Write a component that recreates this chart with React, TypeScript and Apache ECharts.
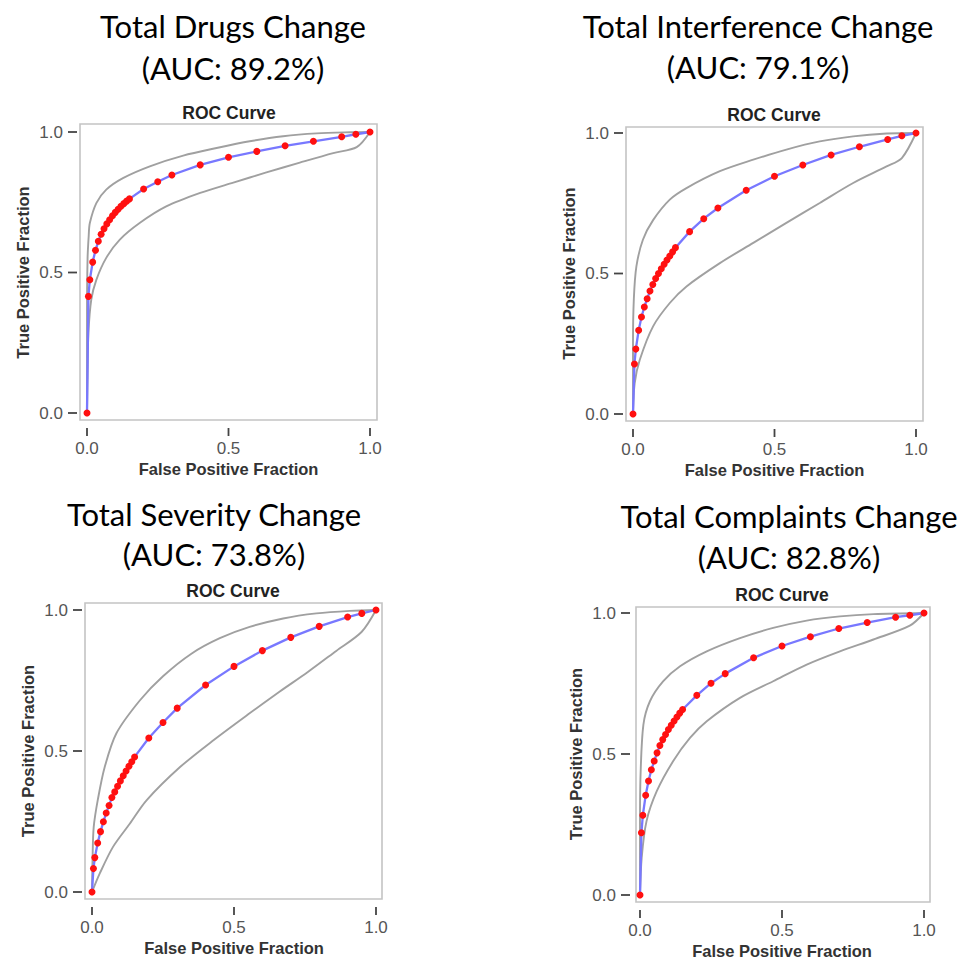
import React, { useEffect, useRef } from "react";
import * as echarts from "echarts";

// ---------- DATA ----------
const PANEL_TITLES = ["Total Drugs Change", "Total Interference Change", "Total Severity Change", "Total Complaints Change"];
const AUC_LABELS = ["(AUC: 89.2%)", "(AUC: 79.1%)", "(AUC: 73.8%)", "(AUC: 82.8%)"];
const SUB_TITLE = "ROC Curve";
const X_NAME = "False Positive Fraction";
const Y_NAME = "True Positive Fraction";
const AXIS_MIN = 0;
const AXIS_MAX = 1;
const AXIS_STEP = 0.5;
const TICK_VALUES = [0, 0.5, 1];

const FPR = [0, 0.005, 0.01, 0.02, 0.03, 0.04, 0.05, 0.06, 0.07, 0.08, 0.09, 0.1, 0.11, 0.12, 0.13, 0.14, 0.15, 0.2, 0.25, 0.3, 0.4, 0.5, 0.6, 0.7, 0.8, 0.9, 0.95, 1];

const TPR_DRUGS = [0, 0.415, 0.474, 0.537, 0.579, 0.611, 0.636, 0.656, 0.673, 0.688, 0.702, 0.714, 0.725, 0.736, 0.745, 0.754, 0.762, 0.797, 0.823, 0.847, 0.883, 0.91, 0.931, 0.951, 0.967, 0.983, 0.992, 1];
const TPR_INTERF = [0, 0.178, 0.231, 0.298, 0.345, 0.381, 0.41, 0.438, 0.461, 0.482, 0.5, 0.517, 0.533, 0.548, 0.562, 0.577, 0.592, 0.649, 0.695, 0.733, 0.796, 0.846, 0.886, 0.922, 0.951, 0.977, 0.99, 1];
const TPR_SEV = [0, 0.083, 0.122, 0.174, 0.214, 0.249, 0.28, 0.307, 0.335, 0.355, 0.375, 0.394, 0.412, 0.429, 0.446, 0.462, 0.479, 0.546, 0.601, 0.652, 0.734, 0.8, 0.856, 0.903, 0.942, 0.975, 0.988, 1];
const TPR_COMPL = [0, 0.221, 0.283, 0.354, 0.404, 0.444, 0.475, 0.504, 0.53, 0.551, 0.569, 0.587, 0.602, 0.617, 0.631, 0.645, 0.658, 0.708, 0.751, 0.785, 0.841, 0.883, 0.916, 0.945, 0.966, 0.985, 0.992, 1];

// confidence bands
const DRUGS_UP_X = [0, 0, 0.002, 0.006, 0.01, 0.033, 0.068, 0.127, 0.222, 0.34, 0.458, 0.575, 0.693, 0.811, 0.93, 1];
const DRUGS_UP_Y = [0, 0.35, 0.55, 0.63, 0.676, 0.747, 0.795, 0.836, 0.878, 0.916, 0.943, 0.967, 0.985, 0.995, 0.999, 1];
const DRUGS_LO_X = [0, 0.002, 0.005, 0.015, 0.033, 0.068, 0.116, 0.186, 0.28, 0.4, 0.517, 0.634, 0.752, 0.87, 0.953, 1];
const DRUGS_LO_Y = [0, 0.15, 0.285, 0.403, 0.474, 0.552, 0.617, 0.676, 0.735, 0.783, 0.82, 0.856, 0.891, 0.925, 0.946, 1];

const INTERF_UP_X = [0, 0, 0.003, 0.012, 0.035, 0.071, 0.13, 0.189, 0.307, 0.425, 0.542, 0.66, 0.778, 0.896, 1];
const INTERF_UP_Y = [0, 0.25, 0.41, 0.525, 0.62, 0.69, 0.763, 0.804, 0.864, 0.905, 0.941, 0.97, 0.988, 0.998, 1];
const INTERF_LO_X = [0, 0.006, 0.024, 0.071, 0.13, 0.189, 0.307, 0.425, 0.542, 0.66, 0.778, 0.896, 0.95, 1];
const INTERF_LO_Y = [0, 0.11, 0.193, 0.312, 0.395, 0.454, 0.537, 0.609, 0.68, 0.751, 0.822, 0.881, 0.911, 1];

const SEV_UP_X = [0, 0.002, 0.006, 0.021, 0.045, 0.086, 0.169, 0.25, 0.35, 0.45, 0.555, 0.673, 0.79, 0.908, 1];
const SEV_UP_Y = [0, 0.12, 0.23, 0.33, 0.444, 0.563, 0.68, 0.765, 0.845, 0.9, 0.94, 0.97, 0.988, 0.997, 1];
const SEV_LO_X = [0, 0.027, 0.074, 0.133, 0.192, 0.31, 0.43, 0.55, 0.66, 0.76, 0.86, 0.949, 1];
const SEV_LO_Y = [0, 0.065, 0.16, 0.242, 0.325, 0.443, 0.54, 0.63, 0.71, 0.78, 0.855, 0.922, 1];

const COMPL_UP_X = [0, 0, 0.002, 0.012, 0.035, 0.082, 0.141, 0.235, 0.352, 0.469, 0.587, 0.704, 0.822, 1];
const COMPL_UP_Y = [0, 0.25, 0.427, 0.604, 0.687, 0.758, 0.811, 0.864, 0.911, 0.947, 0.973, 0.988, 0.996, 1];
const COMPL_LO_X = [0, 0.006, 0.023, 0.059, 0.117, 0.176, 0.235, 0.352, 0.469, 0.587, 0.704, 0.822, 0.95, 1];
const COMPL_LO_Y = [0, 0.132, 0.262, 0.368, 0.475, 0.557, 0.616, 0.699, 0.758, 0.817, 0.864, 0.906, 0.955, 1];

const TPRS = [TPR_DRUGS, TPR_INTERF, TPR_SEV, TPR_COMPL];
const UPS = [[DRUGS_UP_X, DRUGS_UP_Y], [INTERF_UP_X, INTERF_UP_Y], [SEV_UP_X, SEV_UP_Y], [COMPL_UP_X, COMPL_UP_Y]];
const LOS = [[DRUGS_LO_X, DRUGS_LO_Y], [INTERF_LO_X, INTERF_LO_Y], [SEV_LO_X, SEV_LO_Y], [COMPL_LO_X, COMPL_LO_Y]];

// ---------- LAYOUT ----------
// data area of each plot (0..1 on both axes)
const GRIDS = [
  { left: 87, top: 132, width: 283, height: 281 },
  { left: 633, top: 133, width: 283, height: 281 },
  { left: 92, top: 610, width: 284, height: 282 },
  { left: 640, top: 613, width: 284, height: 283 },
];
// surrounding frame boxes
const FRAMES = [
  { x: 80, y: 124, w: 297, h: 296 },
  { x: 626, y: 127, w: 297, h: 294 },
  { x: 85, y: 603, w: 297, h: 296 },
  { x: 636, y: 607, w: 294, h: 295 },
];
const TITLE_POS = [
  { x: 233, y1: 26, y2: 68 },
  { x: 758, y1: 26, y2: 67 },
  { x: 214, y1: 514, y2: 554 },
  { x: 789, y1: 516, y2: 557 },
];
const SUB_POS = [
  { x: 229, y: 113 },
  { x: 774, y: 115 },
  { x: 233, y: 591 },
  { x: 782, y: 595 },
];
const X_OFFSET = 15;
const Y_OFFSET = 10;
const X_TICK_LEN = 8;
const Y_TICK_LEN = 9;

const FONT = "Liberation Sans, Arial, sans-serif";
const zip = (xs: number[], ys: number[]) => xs.map((x, i) => [x, ys[i]]);

export default function App() {
  const ref = useRef<HTMLDivElement>(null);
  useEffect(() => {
    if (!ref.current) return;
    const chart = echarts.init(ref.current, null, { renderer: "svg" });

    const grid = GRIDS.map((g) => ({ ...g, show: false }));

    const axisCommon = {
      type: "value",
      min: AXIS_MIN,
      max: AXIS_MAX,
      interval: AXIS_STEP,
      splitLine: { show: false },
      axisLine: { show: false },
      axisTick: { show: false },
    };

    const xAxis = GRIDS.map((_, i) => ({
      ...axisCommon,
      gridIndex: i,
      offset: X_OFFSET,
      axisLabel: {
        formatter: (v: number) => v.toFixed(1),
        margin: 12,
        color: "#555",
        fontSize: 17,
        fontFamily: FONT,
        showMinLabel: true,
        showMaxLabel: true,
      },
      name: X_NAME,
      nameLocation: "middle",
      nameGap: 32,
      nameTextStyle: { fontSize: 16.5, fontWeight: "bold", color: "#333", fontFamily: FONT },
    }));

    const yAxis = GRIDS.map((_, i) => ({
      ...axisCommon,
      gridIndex: i,
      offset: Y_OFFSET,
      axisLabel: {
        formatter: (v: number) => v.toFixed(1),
        margin: 14,
        color: "#555",
        fontSize: 17,
        fontFamily: FONT,
        showMinLabel: true,
        showMaxLabel: true,
      },
      name: Y_NAME,
      nameLocation: "middle",
      nameGap: 46,
      nameRotate: 90,
      nameTextStyle: { fontSize: 16.5, fontWeight: "bold", color: "#333", fontFamily: FONT },
    }));

    const series: any[] = [];
    GRIDS.forEach((_, i) => {
      [UPS[i], LOS[i]].forEach((band) => {
        series.push({
          type: "line",
          xAxisIndex: i,
          yAxisIndex: i,
          data: zip(band[0], band[1]),
          showSymbol: false,
          smooth: 0.3,
          clip: false,
          lineStyle: { color: "#a0a0a0", width: 1.9 },
          z: 2,
        });
      });
      series.push({
        type: "line",
        xAxisIndex: i,
        yAxisIndex: i,
        data: zip(FPR, TPRS[i]),
        symbol: "circle",
        symbolSize: 7,
        showSymbol: true,
        clip: false,
        itemStyle: { color: "#ff1010" },
        lineStyle: { color: "#7878ff", width: 2.3 },
        z: 3,
      });
      // tick marks, positioned through the axes' scales
      series.push({
        type: "custom",
        xAxisIndex: i,
        yAxisIndex: i,
        clip: false,
        silent: true,
        data: TICK_VALUES.map((v) => [v, v]),
        renderItem: (params: any, api: any) => {
          const v = api.value(0);
          const p = api.coord([v, v]);
          const base = api.coord([AXIS_MIN, AXIS_MIN]);
          const yb = base[1] + X_OFFSET;
          const xl = base[0] - Y_OFFSET;
          return {
            type: "group",
            children: [
              {
                type: "line",
                shape: { x1: p[0], y1: yb, x2: p[0], y2: yb + X_TICK_LEN },
                style: { stroke: "#444", lineWidth: 1.8 },
              },
              {
                type: "line",
                shape: { x1: xl - Y_TICK_LEN, y1: p[1], x2: xl, y2: p[1] },
                style: { stroke: "#444", lineWidth: 1.8 },
              },
            ],
          };
        },
        z: 5,
      });
    });

    const graphic: any[] = [];
    FRAMES.forEach((f, i) => {
      graphic.push({
        id: "frame" + i,
        type: "rect",
        shape: { x: f.x, y: f.y, width: f.w, height: f.h },
        style: { fill: "none", stroke: "#c4c4c4", lineWidth: 1.6 },
        silent: true,
        z: -1,
      });
    });
    TITLE_POS.forEach((p, i) => {
      graphic.push({
        id: "t1_" + i,
        type: "text",
        x: p.x,
        y: p.y1,
        style: { text: PANEL_TITLES[i], fontSize: 31, fontFamily: "Lato, sans-serif", fill: "#000", align: "center", verticalAlign: "middle" },
      });
      graphic.push({
        id: "t2_" + i,
        type: "text",
        x: p.x,
        y: p.y2,
        style: { text: AUC_LABELS[i], fontSize: 31, fontFamily: "Lato, sans-serif", fill: "#000", align: "center", verticalAlign: "middle" },
      });
    });
    SUB_POS.forEach((p, i) => {
      graphic.push({
        id: "sub" + i,
        type: "text",
        x: p.x,
        y: p.y,
        style: { text: SUB_TITLE, fontSize: 17.5, fontWeight: "bold", fontFamily: FONT, fill: "#222", align: "center", verticalAlign: "middle" },
      });
    });

    chart.setOption({
      animation: false,
      backgroundColor: "#fff",
      grid,
      xAxis,
      yAxis,
      series,
      graphic,
    });

    return () => chart.dispose();
  }, []);

  return <div ref={ref} style={{ position: "fixed", left: 0, top: 0, width: 961, height: 960 }} />;
}
